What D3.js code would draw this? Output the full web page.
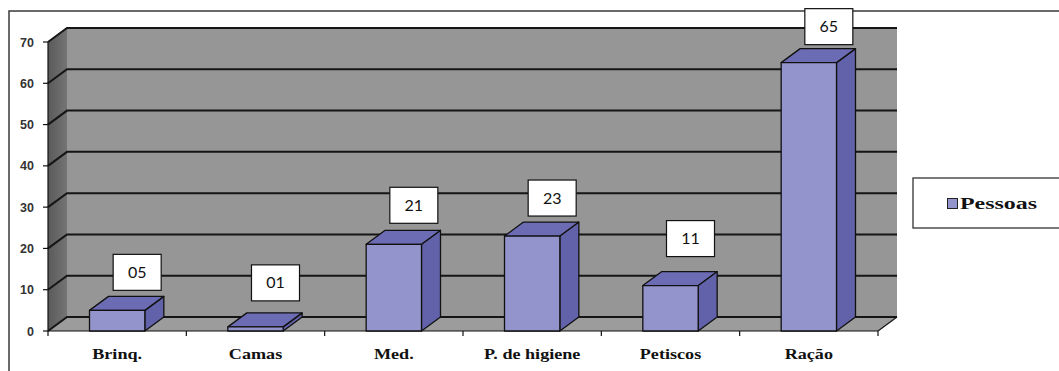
<!DOCTYPE html>
<html>
<head>
<meta charset="utf-8">
<script src="https://cdn.jsdelivr.net/npm/d3@7"></script>
<style>
  html, body { margin: 0; padding: 0; background: #fff; }
  svg { display: block; }
</style>
</head>
<body>
<svg id="chart" width="1059" height="371"></svg>
<script>
// Categories and values for the "Pessoas" series
const categories = ["Brinq.", "Camas", "Med.", "P. de higiene", "Petiscos", "Ração"];
const pessoas = [5, 1, 21, 23, 11, 65];
const yTicks = [0, 10, 20, 30, 40, 50, 60, 70];
const seriesName = "Pessoas";
// vertical lift of each value box above its bar top (layout only)
const labelLift = [38, 44, 39, 38, 47, 36];

const svg = d3.select("#chart");

// front plane of the 3D plot and the depth offset of the back wall
const plotL = 48, plotR = 878, plotT = 42, plotB = 331;
const depthX = 19, depthY = -14;

const x = d3.scaleBand().domain(categories).range([plotL, plotR])
  .paddingInner(0.6).paddingOuter(0.3);
const xEdge = d3.scaleLinear().domain([0, categories.length]).range([plotL, plotR]);
const y = d3.scaleLinear().domain([0, 70]).range([plotB, plotT]);

// outer frame (top and left edges)
svg.append("path")
  .attr("d", `M9,371 L9,11 L1059,11`)
  .attr("fill", "none").attr("stroke", "#3a3a3a").attr("stroke-width", 1.5);

// side wall gradient
const defs = svg.append("defs");
const g1 = defs.append("linearGradient").attr("id", "sideWall").attr("x1", 0).attr("x2", 1).attr("y1", 0).attr("y2", 0);
g1.append("stop").attr("offset", "0%").attr("stop-color", "#5a5a5a");
g1.append("stop").attr("offset", "100%").attr("stop-color", "#747474");

// back wall
svg.append("rect")
  .attr("x", plotL + depthX).attr("y", plotT + depthY)
  .attr("width", plotR - plotL).attr("height", plotB - plotT)
  .attr("fill", "#969696");

// side wall
svg.append("polygon")
  .attr("points", [[plotL, plotT], [plotL + depthX, plotT + depthY], [plotL + depthX, plotB + depthY], [plotL, plotB]].join(" "))
  .attr("fill", "url(#sideWall)");

// floor
svg.append("polygon")
  .attr("points", [[plotL, plotB], [plotL + depthX, plotB + depthY], [plotR + depthX, plotB + depthY], [plotR, plotB]].join(" "))
  .attr("fill", "#9c9c9c");

// gridlines on side wall and back wall
const grid = svg.append("g").attr("stroke", "#151515").attr("stroke-width", 2).attr("fill", "none");
yTicks.forEach(t => {
  const yy = y(t);
  grid.append("path")
    .attr("d", `M${plotL},${yy} L${plotL + depthX},${yy + depthY} L${plotR + depthX},${yy + depthY}`);
});
// floor right edge
grid.append("line")
  .attr("x1", plotR).attr("y1", plotB).attr("x2", plotR + depthX).attr("y2", plotB + depthY)
  .attr("stroke-width", 1.2);

// value axis
const axisG = svg.append("g").attr("stroke", "#111").attr("stroke-width", 1.2);
axisG.append("line").attr("x1", plotL).attr("x2", plotL).attr("y1", plotT).attr("y2", plotB);
axisG.selectAll("line.tick").data(yTicks).join("line")
  .attr("class", "tick")
  .attr("x1", plotL - 5).attr("x2", plotL)
  .attr("y1", d => y(d)).attr("y2", d => y(d));

svg.append("g").selectAll("text").data(yTicks).join("text")
  .attr("x", 34).attr("y", d => y(d) + 4.5)
  .attr("text-anchor", "end")
  .attr("font-family", "Liberation Sans, Arial, sans-serif")
  .attr("font-size", 12.5).attr("font-weight", "bold").attr("fill", "#333")
  .text(d => d);

// category axis
axisG.append("line").attr("x1", plotL).attr("x2", plotR).attr("y1", plotB).attr("y2", plotB);
axisG.selectAll("line.ctick").data(d3.range(categories.length + 1)).join("line")
  .attr("class", "ctick")
  .attr("x1", d => xEdge(d)).attr("x2", d => xEdge(d))
  .attr("y1", plotB).attr("y2", plotB + 5);

svg.append("g").selectAll("text").data(categories).join("text")
  .attr("transform", d => `translate(${x(d) + x.bandwidth() / 2},${359}) scale(1.17,1)`)
  .attr("text-anchor", "middle")
  .attr("font-family", "Liberation Serif, Times New Roman, serif")
  .attr("font-size", 15.5).attr("font-weight", "bold").attr("fill", "#111")
  .text(d => d);

// 3D bars
const bw = x.bandwidth();
const bars = svg.append("g").attr("stroke", "#111").attr("stroke-width", 1.3).attr("stroke-linejoin", "round");
categories.forEach((c, i) => {
  const v = pessoas[i];
  const x0 = x(c), yv = y(v), y0 = y(0);
  const gb = bars.append("g");
  gb.append("polygon")
    .attr("points", [[x0 + bw, yv], [x0 + bw + depthX, yv + depthY], [x0 + bw + depthX, y0 + depthY], [x0 + bw, y0]].join(" "))
    .attr("fill", "#6262aa");
  gb.append("polygon")
    .attr("points", [[x0, yv], [x0 + depthX, yv + depthY], [x0 + bw + depthX, yv + depthY], [x0 + bw, yv]].join(" "))
    .attr("fill", "#6c6cb4");
  gb.append("rect")
    .attr("x", x0).attr("y", yv).attr("width", bw).attr("height", y0 - yv)
    .attr("fill", "#9494cc");
});

// value labels in white boxes
const fmt = d3.format("02d");
const labels = svg.append("g");
categories.forEach((c, i) => {
  const v = pessoas[i];
  const cx = x(c) + bw / 2 + 20;
  const cy = y(v) - labelLift[i];
  labels.append("rect")
    .attr("x", cx - 24).attr("y", cy - 18).attr("width", 48).attr("height", 36)
    .attr("fill", "#fff").attr("stroke", "#111").attr("stroke-width", 1.2);
  labels.append("text")
    .attr("x", cx).attr("y", cy + 5.5)
    .attr("text-anchor", "middle")
    .attr("font-family", "Lato, Open Sans, sans-serif")
    .attr("font-size", 16).attr("fill", "#111")
    .text(fmt(v));
});

// legend
const lg = svg.append("g");
lg.append("rect")
  .attr("x", 913).attr("y", 178).attr("width", 200).attr("height", 50)
  .attr("fill", "#fff").attr("stroke", "#333").attr("stroke-width", 1.3);
lg.append("rect")
  .attr("x", 947.5).attr("y", 198.5).attr("width", 10).attr("height", 10)
  .attr("fill", "#9494cc").attr("stroke", "#222").attr("stroke-width", 1);
lg.append("text")
  .attr("x", 960).attr("y", 209)
  .attr("font-family", "Liberation Serif, Times New Roman, serif")
  .attr("font-size", 17).attr("font-weight", "bold").attr("fill", "#111")
  .attr("textLength", 77).attr("lengthAdjust", "spacingAndGlyphs")
  .text(seriesName);
</script>
</body>
</html>
